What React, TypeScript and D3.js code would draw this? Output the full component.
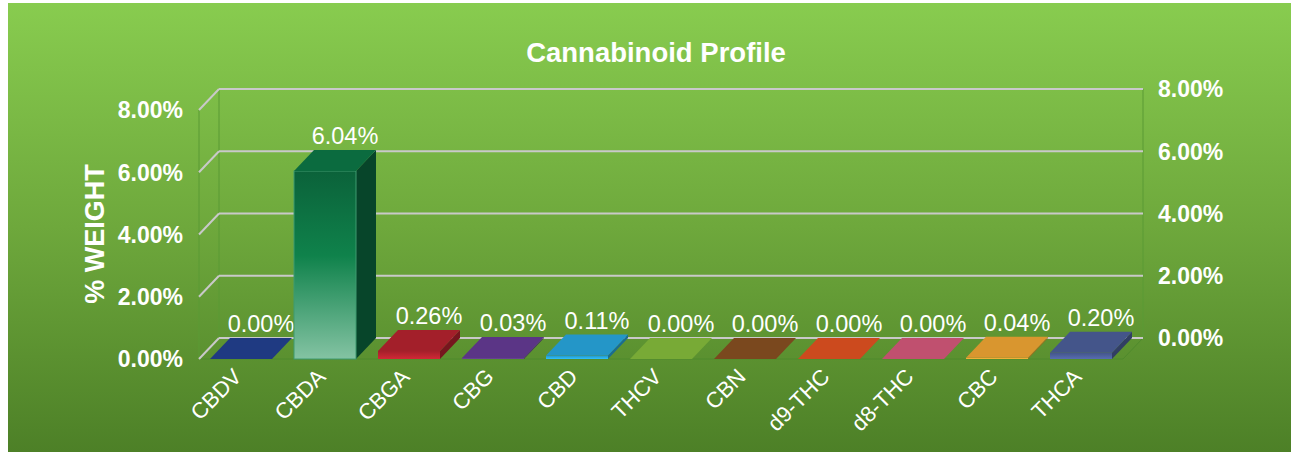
import { useEffect } from "react";
import * as d3 from "d3";

const categories = ["CBDV", "CBDA", "CBGA", "CBG", "CBD", "THCV", "CBN", "d9-THC", "d8-THC", "CBC", "THCA"];
const values = [0.0, 6.04, 0.26, 0.03, 0.11, 0.0, 0.0, 0.0, 0.0, 0.04, 0.2];
const yTicks = [0, 2, 4, 6, 8];

const barColors = [
  "#1f3a82",
  "#0c7a46",
  "#a31f2a",
  "#5b3586",
  "#2496c8",
  "#78aa36",
  "#7a481e",
  "#cc4a1e",
  "#c0506f",
  "#d9962f",
  "#44558a",
];

const W = 1291;
const H = 452;
const FONT = "'Liberation Sans', Arial, Helvetica, sans-serif";

export default function App() {
  useEffect(() => {
    document.body.style.margin = "0";
  }, []);

  // front plane and depth offset of the 3D box
  const left = 199;
  const right = 1123;
  const dx = 20;
  const dy = -21;

  const x = d3.scaleBand<string>().domain(categories).range([left, right]).paddingInner(0.262).paddingOuter(0.131);
  const y = d3.scaleLinear().domain([0, 8]).range([359, 110]);
  const bw = x.bandwidth();
  const fmt = (v: number) => d3.format(".2f")(v) + "%";

  const poly = (pts: [number, number][]) => pts.map((p) => p.join(",")).join(" ");

  return (
    <svg width={W} height={H} style={{ display: "block" }} fontFamily={FONT}>
      <defs>
        <linearGradient id="bg" x1="0" y1="0" x2="0" y2="1">
          <stop offset="0%" stopColor="#88cc4f" />
          <stop offset="50%" stopColor="#6ea83c" />
          <stop offset="100%" stopColor="#4d8027" />
        </linearGradient>
        {categories.map((c, i) => {
          const base = d3.color(barColors[i])!;
          if (i === 1) {
            return (
              <linearGradient key={c} id={`bar${i}`} x1="0" y1="0" x2="0" y2="1">
                <stop offset="0%" stopColor="#0b623a" />
                <stop offset="45%" stopColor="#0f824b" />
                <stop offset="100%" stopColor="#84c3a3" />
              </linearGradient>
            );
          }
          return (
            <linearGradient key={c} id={`bar${i}`} x1="0" y1="0" x2="0" y2="1">
              <stop offset="0%" stopColor={base.toString()} />
              <stop offset="100%" stopColor={base.brighter(0.7).toString()} />
            </linearGradient>
          );
        })}
      </defs>
      <rect x={0} y={0} width={W} height={H} fill="#fff" />
      <rect x={8} y={3} width={W - 8} height={H - 3} fill="url(#bg)" />

      <text x={656} y={62} textAnchor="middle" fill="#fff" fontSize={27.5} fontWeight="bold">
        Cannabinoid Profile
      </text>

      {/* walls */}
      <line x1={left} y1={y(0)} x2={left} y2={y(8)} stroke="#5a9a35" strokeWidth={1} />
      <line x1={left + dx} y1={y(0) + dy} x2={left + dx} y2={y(8) + dy} stroke="#5a9a35" strokeWidth={1} />
      <line x1={right + dx} y1={y(0) + dy} x2={right + dx} y2={y(8) + dy} stroke="#5a9a35" strokeWidth={1} />
      <line x1={left} y1={y(0)} x2={right} y2={y(0)} stroke="#4f8a2c" strokeWidth={1} />
      <line x1={right} y1={y(0)} x2={right + dx} y2={y(0) + dy} stroke="#4f8a2c" strokeWidth={1} />

      {/* gridlines */}
      {yTicks.map((t) => (
        <g key={t}>
          <line x1={left + dx} y1={y(t) + dy} x2={right + dx} y2={y(t) + dy} stroke="#c9c9c9" strokeWidth={2} />
          <line x1={left} y1={y(t)} x2={left + dx} y2={y(t) + dy} stroke="#c9c9c9" strokeWidth={2} />
          <text x={183} y={y(t)} dy="0.36em" textAnchor="end" fill="#fff" fontSize={23} fontWeight="bold">
            {fmt(t)}
          </text>
          <text x={1158} y={y(t) + dy} dy="0.36em" textAnchor="start" fill="#fff" fontSize={23} fontWeight="bold">
            {fmt(t)}
          </text>
        </g>
      ))}

      <text
        transform={`translate(104,234) rotate(-90)`}
        textAnchor="middle"
        fill="#fff"
        fontSize={27}
        fontWeight="bold"
      >
        % WEIGHT
      </text>

      {/* bars */}
      {categories.map((c, i) => {
        const x0 = x(c)!;
        const x1 = x0 + bw;
        const yb = y(0);
        const yt = y(values[i]);
        const base = d3.color(barColors[i])!;
        const side = i === 1 ? "#07452a" : base.darker(0.9).toString();
        const top = i === 1 ? "#0b6b3f" : base.toString();
        return (
          <g key={c}>
            {yb - yt > 0.5 && (
              <>
                <polygon points={poly([[x1, yt], [x1 + dx, yt + dy], [x1 + dx, yb + dy], [x1, yb]])} fill={side} />
                <rect x={x0} y={yt} width={bw} height={yb - yt} fill={`url(#bar${i})`} stroke={i === 1 ? "#3f9a70" : "none"} strokeWidth={1} />
              </>
            )}
            <polygon points={poly([[x0, yt], [x0 + dx, yt + dy], [x1 + dx, yt + dy], [x1, yt]])} fill={top} />
            <text x={x0 + bw / 2 + dx} y={yt + dy - 6} textAnchor="middle" fill="#fff" fontSize={23.5}>
              {fmt(values[i])}
            </text>
            <text
              transform={`translate(${x0 + bw / 2 + 2},${378}) rotate(-45)`}
              textAnchor="end"
              fill="#fff"
              fontSize={22}
            >
              {c}
            </text>
          </g>
        );
      })}
    </svg>
  );
}
